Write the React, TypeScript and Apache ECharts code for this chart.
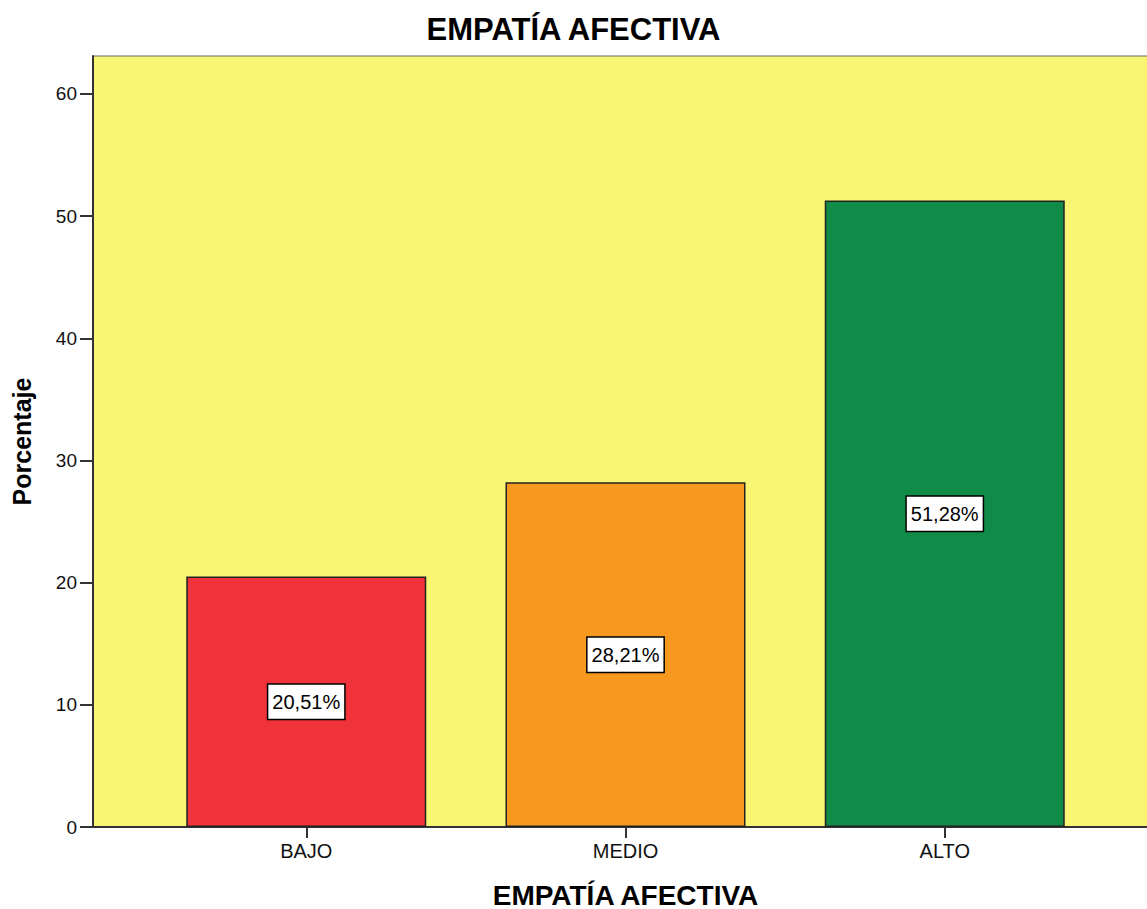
import React, { useEffect, useRef } from "react";
import * as echarts from "echarts";

const categories = ["BAJO", "MEDIO", "ALTO"];
const percentages = [20.51, 28.21, 51.28];
const barColors = ["#f0323a", "#f7981f", "#108c48"];
const yTicks = [0, 10, 20, 30, 40, 50, 60];
const chartTitle = "EMPATÍA AFECTIVA";
const xName = "EMPATÍA AFECTIVA";
const yName = "Porcentaje";

const FONT = "'Liberation Sans', Arial, sans-serif";

export default function App() {
  const ref = useRef<HTMLDivElement>(null);
  useEffect(() => {
    if (!ref.current) return;
    const chart = echarts.init(ref.current, null, { renderer: "svg" });
    const idx = categories.map((_, i) => i);
    chart.setOption({
      animation: false,
      backgroundColor: "#ffffff",
      title: {
        text: chartTitle,
        left: "center",
        top: 9,
        textStyle: { fontFamily: FONT, fontSize: 31, fontWeight: "bold", color: "#000" },
      },
      grid: {
        left: 93,
        top: 56,
        width: 1065,
        height: 771,
        outerBoundsMode: "none",
        containLabel: false,
        show: true,
        backgroundColor: "#f9f673",
        borderColor: "#666",
        borderWidth: 1,
      },
      xAxis: {
        type: "value",
        min: -0.668,
        max: 2.668,
        name: xName,
        nameLocation: "middle",
        nameGap: 54,
        nameTextStyle: { fontFamily: FONT, fontSize: 28, fontWeight: "bold", color: "#000" },
        splitLine: { show: false },
        axisLine: { show: true, onZero: false, lineStyle: { color: "#333", width: 2 } },
        axisTick: { show: true, customValues: idx, length: 11, lineStyle: { color: "#333", width: 2 } },
        axisLabel: {
          customValues: idx,
          formatter: (v: number) => categories[Math.round(v)] ?? "",
          fontFamily: FONT,
          fontSize: 20,
          color: "#111",
          margin: 14,
        },
      },
      yAxis: {
        type: "value",
        min: 0,
        max: 63.1,
        name: yName,
        nameLocation: "middle",
        nameGap: 59,
        nameTextStyle: { fontFamily: FONT, fontSize: 25, fontWeight: "bold", color: "#000" },
        splitLine: { show: false },
        axisLine: { show: true, onZero: false, lineStyle: { color: "#333", width: 2 } },
        axisTick: { show: true, customValues: yTicks, length: 13, lineStyle: { color: "#333", width: 2 } },
        axisLabel: {
          customValues: yTicks,
          fontFamily: FONT,
          fontSize: 19,
          color: "#111",
          margin: 16,
        },
      },
      series: [
        {
          type: "bar",
          barWidth: 240,
          data: percentages.map((v, i) => ({
            value: [i, v],
            itemStyle: { color: barColors[i], borderColor: "#222", borderWidth: 1.5 },
          })),
          label: {
            show: true,
            position: "inside",
            formatter: (p: any) => p.value[1].toFixed(2).replace(".", ",") + "%",
            fontFamily: FONT,
            fontSize: 20,
            color: "#000",
            backgroundColor: "#ffffff",
            borderColor: "#000",
            borderWidth: 1.5,
            padding: [7, 4, 7, 4],
          },
        },
      ],
    });
    return () => chart.dispose();
  }, []);
  return (
    <div
      ref={ref}
      style={{ position: "fixed", left: 0, top: 0, width: 1147, height: 909 }}
    />
  );
}
